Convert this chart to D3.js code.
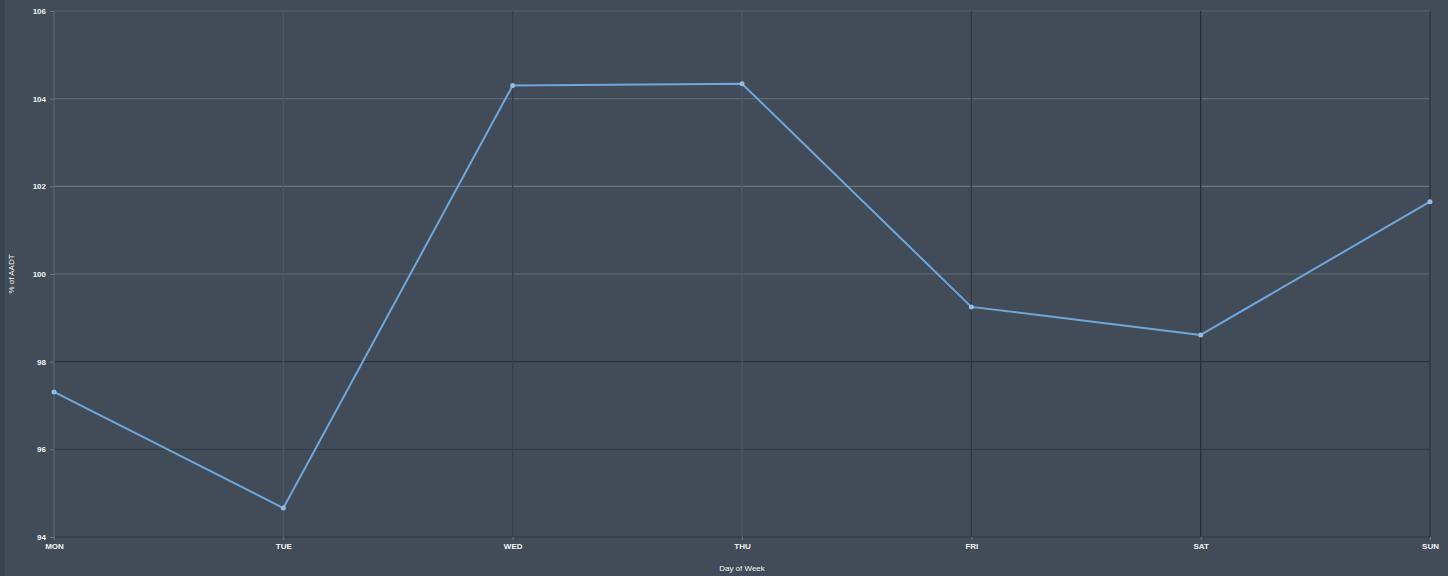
<!DOCTYPE html>
<html>
<head>
<meta charset="utf-8">
<script src="https://cdn.jsdelivr.net/npm/d3@7"></script>
<style>
  html, body { margin: 0; padding: 0; background: #414c58; }
  svg { display: block; }
  text { font-family: "Liberation Sans", Arial, sans-serif; fill: #f2f4f6; }
</style>
</head>
<body>
<svg id="chart" width="1448" height="576"></svg>
<script>
// Share of annual average daily traffic by day of week
const days = ["MON", "TUE", "WED", "THU", "FRI", "SAT", "SUN"];
const pctAADT = [97.31, 94.66, 104.30, 104.34, 99.25, 98.61, 101.65];
const yTicks = [94, 96, 98, 100, 102, 104, 106];

const W = 1448, H = 576;
const margin = { top: 11, right: 18, bottom: 39, left: 54 };

const svg = d3.select("#chart");
svg.append("rect").attr("width", W).attr("height", H).attr("fill", "#414c58");
svg.append("rect").attr("x", 0).attr("y", 0).attr("width", 5).attr("height", H).attr("fill", "#3a444f");

const x = d3.scalePoint().domain(days).range([margin.left, W - margin.right]);
const y = d3.scaleLinear().domain([94, 106]).range([H - margin.bottom, margin.top]);

// grid lines, tones vary per line
const hTone = { 94: "#2e353d", 96: "#343c45", 98: "#2a3139", 100: "#626a73", 102: "#6c737b", 104: "#5f6770", 106: "#57606a" };
const vTone = { MON: "#5a626b", TUE: "#4d5660", WED: "#383f48", THU: "#4f5862", FRI: "#30373f", SAT: "#262c33", SUN: "#2c333a" };

const grid = svg.append("g");
grid.selectAll("line.h").data(yTicks).join("line")
  .attr("class", "h")
  .attr("x1", margin.left).attr("x2", W - margin.right)
  .attr("y1", d => y(d)).attr("y2", d => y(d))
  .attr("stroke", d => hTone[d]).attr("stroke-width", 1.2);
grid.selectAll("line.v").data(days).join("line")
  .attr("class", "v")
  .attr("x1", d => x(d)).attr("x2", d => x(d))
  .attr("y1", margin.top).attr("y2", H - margin.bottom)
  .attr("stroke", d => vTone[d]).attr("stroke-width", 1.2);

// axes
const yAxis = svg.append("g")
  .attr("transform", `translate(${margin.left},0)`)
  .call(d3.axisLeft(y).tickValues(yTicks).tickSize(4).tickPadding(4));
yAxis.select(".domain").remove();
yAxis.selectAll(".tick line").attr("stroke", "#6b737c");
yAxis.selectAll("text").style("font-size", "8px").style("font-weight", "bold").attr("fill", "#f2f4f6");

const xAxis = svg.append("g")
  .attr("transform", `translate(0,${H - margin.bottom})`)
  .call(d3.axisBottom(x).tickSize(3).tickPadding(3));
xAxis.select(".domain").remove();
xAxis.selectAll(".tick line").attr("stroke", "#6b737c");
xAxis.selectAll("text").style("font-size", "8px").style("font-weight", "bold").attr("fill", "#f2f4f6");

// axis titles
svg.append("text")
  .attr("transform", `translate(14,${y(100)}) rotate(-90)`)
  .attr("text-anchor", "middle")
  .style("font-size", "8px")
  .text("% of AADT");
svg.append("text")
  .attr("x", x("THU")).attr("y", 571)
  .attr("text-anchor", "middle")
  .style("font-size", "8px")
  .text("Day of Week");

// series
const data = days.map((d, i) => ({ day: d, v: pctAADT[i] }));
svg.append("path")
  .datum(data)
  .attr("fill", "none")
  .attr("stroke", "#6fa7da")
  .attr("stroke-width", 2)
  .attr("stroke-linejoin", "round")
  .attr("d", d3.line().x(d => x(d.day)).y(d => y(d.v)));
svg.selectAll("circle.pt").data(data).join("circle")
  .attr("class", "pt")
  .attr("cx", d => x(d.day)).attr("cy", d => y(d.v))
  .attr("r", 2.5)
  .attr("fill", "#8fbde6");
</script>
</body>
</html>
